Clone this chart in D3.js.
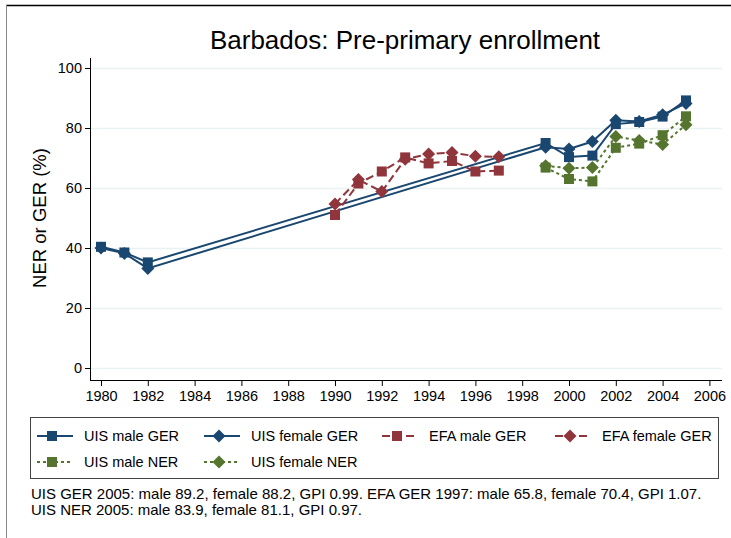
<!DOCTYPE html>
<html>
<head>
<meta charset="utf-8">
<script src="https://cdn.jsdelivr.net/npm/d3@7"></script>
<style>
  body { margin: 0; background: #fff; }
  svg { font-family: "Liberation Sans", Arial, sans-serif; }
</style>
</head>
<body>
<svg id="chart"></svg>
<script>
// DATA
const uisYears = [1980, 1981, 1982, 1999, 2000, 2001, 2002, 2003, 2004, 2005]
const uisMaleGER = [40.4, 38.5, 35.2, 75, 70.3, 70.8, 81.3, 82, 83.8, 89.2]
const uisFemaleGER = [40, 38.2, 33.2, 73.6, 73, 75.5, 82.6, 82.2, 84.4, 88.2]

const efaYears = [1990, 1991, 1992, 1993, 1994, 1995, 1996, 1997]
const efaMaleGER = [51, 61.5, 65.5, 70.2, 68.2, 69, 65.5, 65.8]
const efaFemaleGER = [54.7, 62.8, 58.8, 69.6, 71.3, 71.8, 70.6, 70.4]

const nerYears = [1999, 2000, 2001, 2002, 2003, 2004, 2005]
const uisMaleNER = [66.8, 63, 62.2, 73.4, 74.8, 77.6, 83.9]
const uisFemaleNER = [67.4, 66.6, 66.8, 77.2, 75.8, 74.5, 81.1]

const xTicks = [1980, 1982, 1984, 1986, 1988, 1990, 1992, 1994, 1996, 1998, 2000, 2002, 2004, 2006]
const yTicks = [0, 20, 40, 60, 80, 100]

const navy = "#1a476f", maroon = "#90353b", green = "#55752f"

const series = [
	{name: "UIS male GER", years: uisYears, values: uisMaleGER, color: navy, dash: null, shape: "square"},
	{name: "UIS female GER", years: uisYears, values: uisFemaleGER, color: navy, dash: null, shape: "diamond"},
	{name: "EFA male GER", years: efaYears, values: efaMaleGER, color: maroon, dash: "8,4", shape: "square"},
	{name: "EFA female GER", years: efaYears, values: efaFemaleGER, color: maroon, dash: "8,4", shape: "diamond"},
	{name: "UIS male NER", years: nerYears, values: uisMaleNER, color: green, dash: "3,3", shape: "square"},
	{name: "UIS female NER", years: nerYears, values: uisFemaleNER, color: green, dash: "3,3", shape: "diamond"}
]

const W = 731, H = 538
const svg = d3.select("#chart").attr("width", W).attr("height", H)

// frame
svg.append("line").attr("x1", 6).attr("x2", W).attr("y1", 5.5).attr("y2", 5.5)
	.attr("stroke", "#000").attr("stroke-width", 1.5)
svg.append("line").attr("x1", 6.5).attr("x2", 6.5).attr("y1", 5).attr("y2", H)
	.attr("stroke", "#888").attr("stroke-width", 1)

const plotLeft = 90, plotRight = 722, plotBottom = 380

const x = d3.scaleLinear().domain([1980, 2006]).range([101, 709.4])
const y = d3.scaleLinear().domain([0, 100]).range([368, 68])

// grid
svg.append("g")
	.attr("transform", "translate(" + plotLeft + ",0)")
	.call(d3.axisLeft(y).tickValues(yTicks).tickSize(-(plotRight - plotLeft)).tickFormat(""))
	.call(g => g.select(".domain").remove())
	.selectAll("line").attr("stroke", "#eaf2f3").attr("stroke-width", 1.5)

// y axis
const yAxis = svg.append("g")
	.attr("transform", "translate(" + plotLeft + ",0)")
	.call(d3.axisLeft(y).tickValues(yTicks).tickSize(5).tickPadding(3).tickSizeOuter(0))
yAxis.select(".domain").attr("d", "M0.5,58V" + plotBottom).attr("stroke", "#000")
yAxis.selectAll("text").attr("font-size", 14.5).attr("fill", "#000").attr("font-family", "Liberation Sans, Arial")

// x axis
const xAxis = svg.append("g")
	.attr("transform", "translate(0," + plotBottom + ")")
	.call(d3.axisBottom(x).tickValues(xTicks).tickFormat(d3.format("d")).tickSize(6).tickPadding(5))
xAxis.select(".domain").attr("d", "M" + plotLeft + ",0.5H" + plotRight).attr("stroke", "#000")
xAxis.selectAll("text").attr("font-size", 14.5).attr("fill", "#000").attr("font-family", "Liberation Sans, Arial")

// title and axis label
svg.append("text").attr("x", 405).attr("y", 49).attr("text-anchor", "middle")
	.attr("font-size", 26).text("Barbados: Pre-primary enrollment")

svg.append("text").attr("transform", "translate(46,218) rotate(-90)").attr("text-anchor", "middle")
	.attr("font-size", 18.5).text("NER or GER (%)")

function drawMarker(g, shape, cx, cy, color) {
	if (shape === "square") {
		g.append("rect").attr("x", cx - 5).attr("y", cy - 5).attr("width", 10).attr("height", 10)
			.attr("fill", color)
	} else {
		g.append("path")
			.attr("d", "M" + cx + "," + (cy - 6.5) + "L" + (cx + 6.5) + "," + cy + "L" + cx + "," + (cy + 6.5) + "L" + (cx - 6.5) + "," + cy + "Z")
			.attr("fill", color)
	}
}

const line = d3.line().x(d => x(d[0])).y(d => y(d[1]))

series.forEach(s => {
	const pts = s.years.map((yr, i) => [yr, s.values[i]])
	const g = svg.append("g")
	g.append("path").datum(pts).attr("d", line)
		.attr("fill", "none").attr("stroke", s.color).attr("stroke-width", 2)
		.attr("stroke-dasharray", s.dash)
	pts.forEach(p => drawMarker(g, s.shape, x(p[0]), y(p[1]), s.color))
})

// legend
svg.append("rect").attr("x", 30.5).attr("y", 417.5).attr("width", 688).attr("height", 61)
	.attr("fill", "none").attr("stroke", "#444").attr("stroke-width", 1)

const legCols = [37, 204, 382, 555]
const legRows = [436, 462]
series.forEach((s, i) => {
	const lx = legCols[i % 4], ly = legRows[Math.floor(i / 4)]
	const g = svg.append("g")
	g.append("line").attr("x1", lx).attr("x2", lx + 36).attr("y1", ly).attr("y2", ly)
		.attr("stroke", s.color).attr("stroke-width", 2).attr("stroke-dasharray", s.dash)
	drawMarker(g, s.shape, lx + 15, ly, s.color)
	g.append("text").attr("x", lx + 47).attr("y", ly + 5).attr("font-size", 14.5).text(s.name)
})

// note
const notes = [
	"UIS GER 2005: male 89.2, female 88.2, GPI 0.99. EFA GER 1997: male 65.8, female 70.4, GPI 1.07.",
	"UIS NER 2005: male 83.9, female 81.1, GPI 0.97."
]
notes.forEach((t, i) => {
	svg.append("text").attr("x", 31).attr("y", 499 + i * 16).attr("font-size", 15).text(t)
})
</script>
</body>
</html>
